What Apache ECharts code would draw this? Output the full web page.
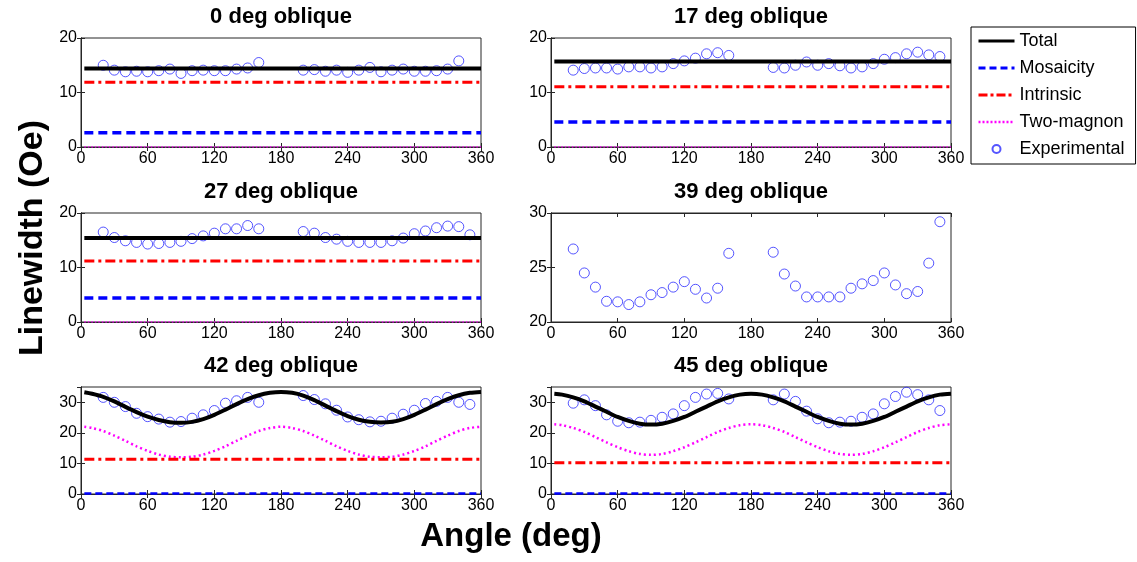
<!DOCTYPE html>
<html><head><meta charset="utf-8">
<script src="https://cdn.jsdelivr.net/npm/echarts@6.0.0/dist/echarts.min.js"></script>
<style>html,body{margin:0;padding:0;background:#fff}#c{width:1137px;height:562px}</style>
</head><body><div id="c"></div><script>
// ---------- data ----------
const panelTitles = ['0 deg oblique', '17 deg oblique', '27 deg oblique', '39 deg oblique', '42 deg oblique', '45 deg oblique'];
const seriesNames = ['Total', 'Mosaicity', 'Intrinsic', 'Two-magnon', 'Experimental'];

const expAngles = [20,30,40,50,60,70,80,90,100,110,120,130,140,150,160,
                   200,210,220,230,240,250,260,270,280,290,300,310,320,330,340,350];
const exp0  = [15.0,14.1,13.8,13.9,13.8,14.0,14.3,13.5,14.0,14.1,14.0,14.0,14.3,14.5,15.5,
               14.1,14.2,13.9,14.1,13.7,14.1,14.6,13.8,14.1,14.3,13.9,13.9,14.0,14.3,15.8,null];
const exp17 = [14.1,14.4,14.5,14.5,14.3,14.7,14.7,14.5,14.7,15.3,15.8,16.3,17.1,17.3,16.8,
               14.6,14.5,15.0,15.6,15.0,15.3,14.9,14.5,14.7,15.3,16.1,16.4,17.1,17.4,16.9,16.6];
const exp27 = [16.5,15.5,14.9,14.6,14.3,14.4,14.6,14.8,15.3,15.8,16.3,17.1,17.1,17.7,17.1,
               16.6,16.3,15.5,15.2,14.8,14.6,14.6,14.6,14.9,15.4,16.2,16.7,17.3,17.6,17.5,16.0];
const exp39 = [26.7,24.5,23.2,21.9,21.85,21.6,21.85,22.5,22.7,23.2,23.7,23.0,22.2,23.1,26.3,
               26.4,24.4,23.3,22.3,22.3,22.3,22.3,23.1,23.5,23.8,24.5,23.4,22.6,22.8,25.4,29.2];
const exp42 = [31.6,30.0,28.6,26.4,25.3,24.5,23.5,23.7,24.8,25.9,27.3,29.7,30.5,31.6,30.0,
               32.2,30.9,29.5,27.4,25.2,24.3,23.6,23.8,24.8,26.1,27.4,29.6,30.3,31.6,30.0,29.3];
const exp45 = [29.7,30.8,28.9,25.9,23.8,23.3,23.5,24.1,25.1,26.2,28.9,31.6,32.7,32.9,31.1,
               30.8,32.7,30.3,27.1,24.6,23.3,23.5,23.8,25.1,26.2,29.5,31.9,33.3,32.5,30.8,27.3];

// flat model lines (panels 0, 17, 27 deg)
const flatAngles = [3, 360];
const total0 = [14.4, 14.4],  mosaic0 = [2.6, 2.6],  intrinsic0 = [11.9, 11.9],  twoMag0 = [0, 0];
const total17 = [15.7, 15.7], mosaic17 = [4.6, 4.6], intrinsic17 = [11.05, 11.05], twoMag17 = [0, 0];
const total27 = [15.4, 15.4], mosaic27 = [4.4, 4.4], intrinsic27 = [11.2, 11.2], twoMag27 = [0, 0];

// curved model lines (panels 42, 45 deg)
const curveAngles = [3,10,20,30,40,50,60,70,80,90,100,110,120,130,140,150,160,170,180,
                     190,200,210,220,230,240,250,260,270,280,290,300,310,320,330,340,350,360];
const total42 = [33.3,32.8,31.8,30.3,28.5,26.8,25.3,24.2,23.5,23.3,23.6,24.5,25.9,27.6,29.4,31.0,32.3,33.1,33.4,
                 33.1,32.2,30.7,28.9,27.1,25.5,24.3,23.6,23.4,23.6,24.5,25.9,27.6,29.4,31.0,32.3,33.1,33.4];
const twoMag42 = [22.0,21.6,20.6,19.1,17.4,15.6,14.1,12.9,12.2,12.0,12.2,12.9,14.1,15.6,17.4,19.1,20.6,21.6,22.0,
                  21.6,20.6,19.1,17.4,15.6,14.1,12.9,12.2,12.0,12.2,12.9,14.1,15.6,17.4,19.1,20.6,21.6,22.0];
const mosaic42 = [0.2, 0.2], intrinsic42 = [11.4, 11.4];
const total45 = [32.8,32.5,31.6,30.3,28.6,26.9,25.2,23.9,23.0,22.7,23.0,23.9,25.2,26.9,28.6,30.3,31.6,32.5,32.8,
                 32.5,31.6,30.3,28.6,26.9,25.2,23.9,23.0,22.7,23.0,23.9,25.2,26.9,28.6,30.3,31.6,32.5,32.8];
const twoMag45 = [22.8,22.5,21.6,20.3,18.6,16.9,15.3,14.0,13.1,12.8,13.1,14.0,15.3,16.9,18.6,20.3,21.6,22.5,22.8,
                  22.5,21.6,20.3,18.6,16.9,15.3,14.0,13.1,12.8,13.1,14.0,15.3,16.9,18.6,20.3,21.6,22.5,22.8];
const mosaic45 = [0.2, 0.2], intrinsic45 = [10.2, 10.2];

// ---------- layout / styles ----------
const FONT = "'Liberation Sans', Arial, Helvetica, sans-serif";
const AX = '#262626';
const pair = (xs, ys) => xs.map((x, i) => [x, ys[i]]);

const panels = [
  {grid:{left:81,top:38,width:400,height:109}, titleY:6, y:[0,20,10], exp:exp0,
   lines:{total:[flatAngles,total0], mosaic:[flatAngles,mosaic0], intr:[flatAngles,intrinsic0], two:[flatAngles,twoMag0]}, flat:true},
  {grid:{left:551,top:38,width:400,height:109}, titleY:6, y:[0,20,10], exp:exp17,
   lines:{total:[flatAngles,total17], mosaic:[flatAngles,mosaic17], intr:[flatAngles,intrinsic17], two:[flatAngles,twoMag17]}, flat:true},
  {grid:{left:81,top:213,width:400,height:109}, titleY:181, y:[0,20,10], exp:exp27,
   lines:{total:[flatAngles,total27], mosaic:[flatAngles,mosaic27], intr:[flatAngles,intrinsic27], two:[flatAngles,twoMag27]}, flat:true},
  {grid:{left:551,top:213,width:400,height:109}, titleY:181, y:[20,30,5], exp:exp39, lines:null},
  {grid:{left:81,top:387,width:400,height:107}, titleY:355, y:[0,35,10], exp:exp42,
   lines:{total:[curveAngles,total42], mosaic:[flatAngles,mosaic42], intr:[flatAngles,intrinsic42], two:[curveAngles,twoMag42]}, flat:false},
  {grid:{left:551,top:387,width:400,height:107}, titleY:355, y:[0,35,10], exp:exp45,
   lines:{total:[curveAngles,total45], mosaic:[flatAngles,mosaic45], intr:[flatAngles,intrinsic45], two:[curveAngles,twoMag45]}, flat:false}
];

const grids = [], xAxes = [], yAxes = [], series = [], titles = [];
panels.forEach((p, g) => {
  grids.push(Object.assign({show:true, borderColor:AX, borderWidth:1, backgroundColor:'#fff'}, p.grid));
  titles.push({text: panelTitles[g], left: p.grid.left + p.grid.width/2, top: p.titleY, textAlign:'center', padding:0,
    textStyle:{fontSize:22, fontWeight:'bold', color:'#000', fontFamily:FONT}});
  const xBase = {gridIndex:g, type:'value', min:0, max:360, interval:60, splitLine:{show:false},
    axisLine:{show:true, lineStyle:{color:AX, width:1}},
    axisTick:{show:true, inside:true, length:4, lineStyle:{color:AX}}};
  xAxes.push(Object.assign({}, xBase, {position:'bottom',
    axisLabel:{show:true, margin:4, fontSize:16, color:'#000', fontFamily:FONT}}));
  xAxes.push(Object.assign({}, xBase, {position:'top', axisLabel:{show:false}}));
  const yBase = {gridIndex:g, type:'value', min:p.y[0], max:p.y[1], interval:p.y[2], splitLine:{show:false},
    axisLine:{show:true, lineStyle:{color:AX, width:1}},
    axisTick:{show:true, inside:true, length:4, lineStyle:{color:AX}}};
  yAxes.push(Object.assign({}, yBase, {position:'left',
    axisLabel:{show:true, margin:4, fontSize:16, color:'#000', fontFamily:FONT, showMaxLabel: p.y[1] !== 35}}));
  yAxes.push(Object.assign({}, yBase, {position:'right', axisLabel:{show:false}}));

  const xi = 2*g, yi = 2*g;
  series.push({name:'Experimental', type:'scatter', xAxisIndex:xi, yAxisIndex:yi,
    data: pair(expAngles, p.exp).filter(d => d[1] !== null),
    symbol:'circle', symbolSize:10,
    itemStyle:{color:'rgba(0,0,0,0)', borderColor:'#2b2bff', borderWidth:1}, z:2});
  if (p.lines) {
    const L = p.lines;
    series.push({name:'Two-magnon', type:'line', xAxisIndex:xi, yAxisIndex:yi, data:pair(L.two[0], L.two[1]),
      symbol:'none', smooth: p.flat ? false : 0.3, itemStyle:{color:'#ff00ff'},
      lineStyle:{color:'#ff00ff', width: p.flat ? 1.5 : 2.5, type: p.flat ? [1.5,2] : [2,3]}, z:3});
    series.push({name:'Intrinsic', type:'line', xAxisIndex:xi, yAxisIndex:yi, data:pair(L.intr[0], L.intr[1]),
      symbol:'none', itemStyle:{color:'#ff0000'}, lineStyle:{color:'#ff0000', width:3, type:[10,4,3,4]}, z:3});
    series.push({name:'Mosaicity', type:'line', xAxisIndex:xi, yAxisIndex:yi, data:pair(L.mosaic[0], L.mosaic[1]),
      symbol:'none', itemStyle:{color:'#0000ff'},
      lineStyle:{color:'#0000ff', width: p.flat ? 3.5 : 2.5, type: p.flat ? [9,5] : [7,4]}, z:3});
    series.push({name:'Total', type:'line', xAxisIndex:xi, yAxisIndex:yi, data:pair(L.total[0], L.total[1]),
      symbol:'none', smooth: p.flat ? false : 0.3, itemStyle:{color:'#000'},
      lineStyle:{color:'#000000', width:4, type:'solid'}, z:4});
  }
});

const hidden = {opacity:0};
const chart = echarts.init(document.getElementById('c'), null, {renderer:'canvas'});
chart.setOption({
  animation:false,
  backgroundColor:'#fff',
  title: titles,
  grid: grids,
  xAxis: xAxes,
  yAxis: yAxes,
  series: series,
  legend: {
    orient:'vertical', left:971, top:27, padding:[5,11,6,6],
    itemWidth:36, itemHeight:8, itemGap:9,
    backgroundColor:'#fff', borderColor:'#000', borderWidth:1, borderRadius:0,
    textStyle:{fontSize:18, color:'#000', fontFamily:FONT},
    data:[
      {name:'Total', itemStyle:hidden, lineStyle:{width:3, color:'#000', type:'solid'}},
      {name:'Mosaicity', itemStyle:hidden, lineStyle:{width:3, color:'#0000ff', type:[7,4]}},
      {name:'Intrinsic', itemStyle:hidden, lineStyle:{width:3, color:'#ff0000', type:[9,3,3,3]}},
      {name:'Two-magnon', itemStyle:hidden, lineStyle:{width:2.5, type:[2,2], color:'#ff00ff'}},
      {name:'Experimental'}
    ]
  },
  graphic: [
    {type:'text', x:33, y:238, rotation:Math.PI/2,
     style:{text:'Linewidth (Oe)', fontSize:34, fontWeight:'bold', fontFamily:FONT, fill:'#000', align:'center', verticalAlign:'middle'}},
    {type:'text', x:511, y:537,
     style:{text:'Angle (deg)', fontSize:33, fontWeight:'bold', fontFamily:FONT, fill:'#000', align:'center', verticalAlign:'middle'}}
  ]
});
</script></body></html>
